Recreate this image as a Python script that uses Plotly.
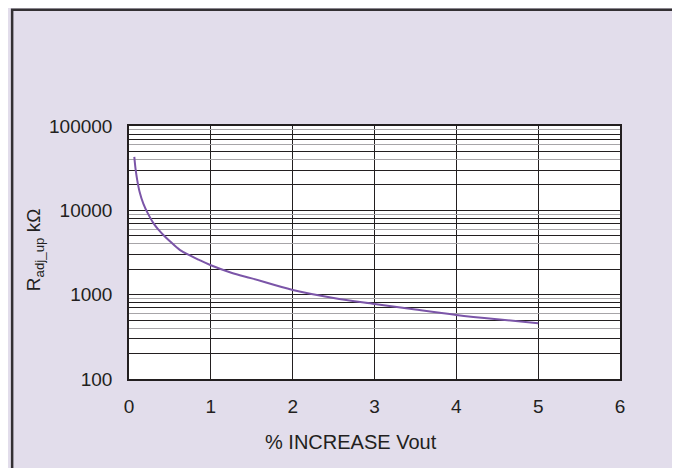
import plotly.graph_objects as go

# Data
pct_increase = [0.065, 0.08, 0.1, 0.13, 0.175, 0.23, 0.3, 0.36, 0.42, 0.5, 0.62, 0.75, 0.85,
                1.0, 1.25, 1.5, 2.0, 2.5, 3.0, 3.5, 4.0, 4.5, 5.0]
r_adj_up = [43000, 31000, 23000, 16500, 12000, 9200, 7000, 5900, 5100, 4300, 3400, 2900, 2600,
            2230, 1820, 1560, 1137, 915, 776, 665, 575, 510, 458]

x_ticks = [0, 1, 2, 3, 4, 5, 6]
y_major = [100, 1000, 10000, 100000]
y_minor_dark = [v * m for v in [100, 1000, 10000] for m in (2, 3, 5, 7, 8)]
y_minor_grey = [v * m for v in [100, 1000, 10000] for m in (4, 6, 9)]

BG = "#E2DDEB"
INK = "#231F20"
FONT = "Liberation Sans, Arial, sans-serif"

fig = go.Figure()
fig.add_trace(go.Scatter(
    x=pct_increase, y=r_adj_up, mode="lines",
    line=dict(color="#7B55A8", width=2, shape="spline"),
    showlegend=False, hoverinfo="skip",
))
# invisible trace on the overlay axis so it renders its grid
fig.add_trace(go.Scatter(x=[None], y=[None], yaxis="y2", showlegend=False,
                         hoverinfo="skip"))

fig.update_layout(
    width=672, height=460,
    margin=dict(l=121, r=60, t=118, b=89),
    paper_bgcolor=BG, plot_bgcolor="white",
    font=dict(family=FONT, color=INK, size=19),
    xaxis=dict(
        range=[0, 6], tickvals=x_ticks, ticktext=[str(v) for v in x_ticks],
        showgrid=True, gridcolor=INK, gridwidth=1,
        showline=True, linecolor=INK, linewidth=1.5, mirror=True,
        ticks="outside", ticklen=9, tickcolor="rgba(0,0,0,0)",
        tickfont=dict(size=19, family=FONT, color=INK),
        zeroline=False,
    ),
    yaxis=dict(
        type="log", range=[2, 5], tickvals=y_major,
        ticktext=[str(v) for v in y_major],
        showgrid=True, gridcolor=INK, gridwidth=1,
        showline=True, linecolor=INK, linewidth=1.5, mirror=True,
        ticks="outside", ticklen=11, tickcolor="rgba(0,0,0,0)",
        tickfont=dict(size=19, family=FONT, color=INK),
        minor=dict(tickmode="array", tickvals=y_minor_dark, showgrid=True,
                   gridcolor=INK, gridwidth=1, ticks=""),
        zeroline=False,
    ),
    yaxis2=dict(
        type="log", range=[2, 5], overlaying="y", side="left",
        tickvals=y_minor_grey, showticklabels=False,
        showgrid=True, gridcolor="#A7A5A8", gridwidth=1,
        showline=False, zeroline=False, ticks="",
    ),
    annotations=[
        dict(text="% INCREASE Vout", xref="paper", yref="paper",
             x=0.452, y=-0.249, xanchor="center", yanchor="middle",
             showarrow=False, font=dict(size=20, family=FONT, color=INK)),
        dict(text="R<sub>adj_up</sub> kΩ", xref="paper", yref="paper",
             x=-0.191, y=0.51, xanchor="center", yanchor="middle",
             textangle=-90, showarrow=False,
             font=dict(size=19, family=FONT, color=INK)),
    ],
    shapes=[
        dict(type="rect", xref="paper", yref="paper",
             x0=-0.238, x1=1.112, y0=-0.40, y1=1.459,
             line=dict(color="#333033", width=2.5), layer="below"),
    ],
)

fig.write_html("out.html")
